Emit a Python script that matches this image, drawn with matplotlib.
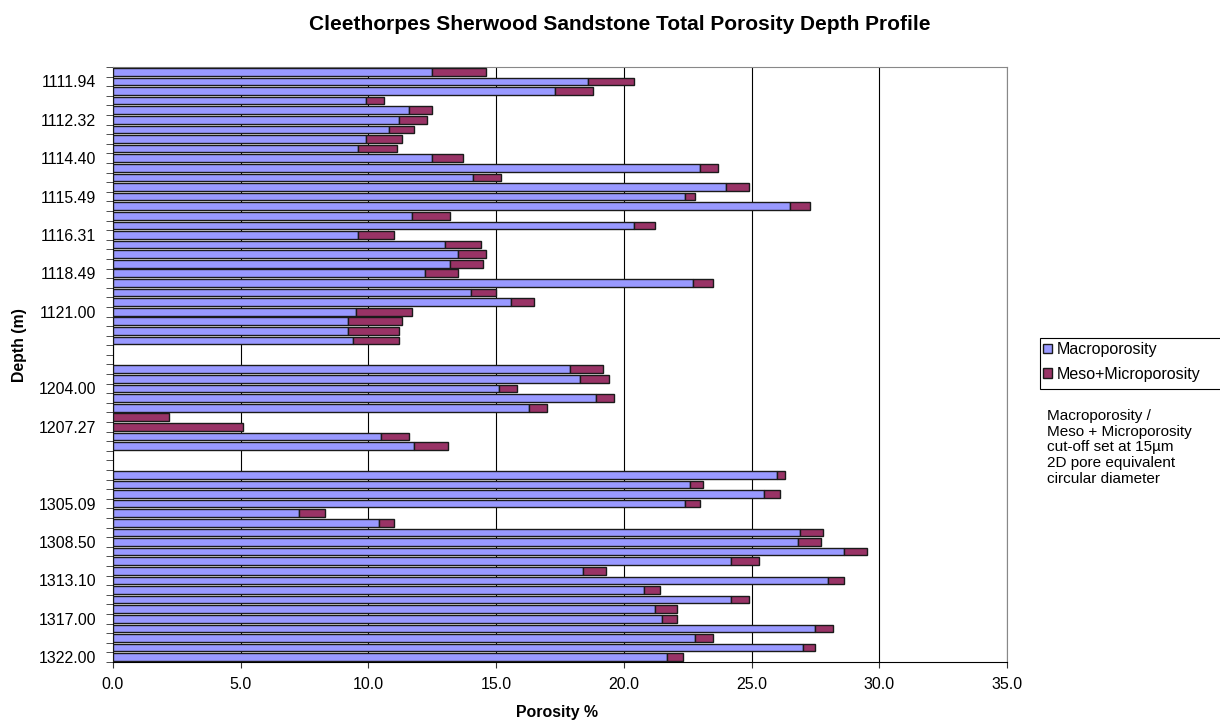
import matplotlib
matplotlib.use("Agg")
import matplotlib.pyplot as plt
from matplotlib.patches import Rectangle
import numpy as np

plt.rcParams['font.family'] = ['Liberation Sans', 'DejaVu Sans']

# Depth samples, top to bottom (None marks a gap between cored intervals)
depth_labels = ['', '1111.94', '', '', '', '1112.32', '', '', '', '1114.40',
                '', '', '', '1115.49', '', '', '', '1116.31', '', '',
                '', '1118.49', '', '', '', '1121.00', '', '', '', '',
                '', '', '', '1204.00', '', '', '', '1207.27', '', '',
                '', '', '', '', '', '1305.09', '', '', '', '1308.50',
                '', '', '', '1313.10', '', '', '', '1317.00', '', '',
                '', '1322.00']

macro = [12.5, 18.6, 17.3, 9.9, 11.6, 11.2, 10.8, 9.9, 9.6, 12.5,
         23.0, 14.1, 24.0, 22.4, 26.5, 11.7, 20.4, 9.6, 13.0, 13.5,
         13.2, 12.2, 22.7, 14.0, 15.6, 9.5, 9.2, 9.2, 9.4, None,
         None, 17.9, 18.3, 15.1, 18.9, 16.3, 0.0, 0.0, 10.5, 11.8,
         None, None, 26.0, 22.6, 25.5, 22.4, 7.3, 10.4, 26.9, 26.8,
         28.6, 24.2, 18.4, 28.0, 20.8, 24.2, 21.2, 21.5, 27.5, 22.8,
         27.0, 21.7]

meso_micro = [2.1, 1.8, 1.5, 0.7, 0.9, 1.1, 1.0, 1.4, 1.5, 1.2,
              0.7, 1.1, 0.9, 0.4, 0.8, 1.5, 0.8, 1.4, 1.4, 1.1,
              1.3, 1.3, 0.8, 1.0, 0.9, 2.2, 2.1, 2.0, 1.8, None,
              None, 1.3, 1.1, 0.7, 0.7, 0.7, 2.2, 5.1, 1.1, 1.3,
              None, None, 0.3, 0.5, 0.6, 0.6, 1.0, 0.6, 0.9, 0.9,
              0.9, 1.1, 0.9, 0.6, 0.6, 0.7, 0.9, 0.6, 0.7, 0.7,
              0.5, 0.6]

x_ticks = [0, 5, 10, 15, 20, 25, 30, 35]

macro_colour = '#9999FF'
meso_colour = '#993366'
edge_colour = '#1a1a1a'

W, H = 1220, 722
n = len(depth_labels)
pos = np.arange(n)
macro_v = np.array([np.nan if v is None else v for v in macro], dtype=float)
meso_v = np.array([np.nan if v is None else v for v in meso_micro], dtype=float)
has = ~np.isnan(macro_v)

fig = plt.figure(figsize=(W / 100, H / 100), dpi=100)
left, right, top, bottom = 113, 1007, 67, 662
ax = fig.add_axes([left / W, 1 - bottom / H, (right - left) / W, (bottom - top) / H])

ax.barh(pos[has], macro_v[has], height=0.8, color=macro_colour,
        edgecolor=edge_colour, linewidth=1.0, label='Macroporosity', zorder=3)
ax.barh(pos[has], meso_v[has], left=macro_v[has], height=0.8,
        color=meso_colour, edgecolor=edge_colour, linewidth=1.0,
        label='Meso+Microporosity', zorder=3)

ax.set_xlim(0, 35)
ax.set_ylim(n - 0.5, -0.5)
ax.set_xticks(x_ticks)
ax.set_xticklabels([f'{t:.1f}' for t in x_ticks], fontsize=11.5)
ax.xaxis.grid(True, color='#000000', linewidth=0.8, zorder=0)
ax.tick_params(axis='x', length=4, color='#333333', pad=7)

# Category labels at their centres, tick marks on the category boundaries
ax.set_yticks(pos)
ax.set_yticklabels(depth_labels, fontsize=11.4)
ax.tick_params(axis='y', which='major', length=0, pad=12)
ax.set_yticks(np.arange(-0.5, n, 1.0), minor=True)
ax.tick_params(axis='y', which='minor', length=5, color='#333333')

for side in ['top', 'right']:
    ax.spines[side].set_color('#888888')
ax.spines['left'].set_color('#000000')
ax.spines['bottom'].set_color('#000000')

fig.text(557 / W, 1 - 713 / H, 'Porosity %', fontsize=11.4,
         fontweight='bold', ha='center', va='center')
fig.text(20 / W, 1 - 345 / H, 'Depth (m)', fontsize=11.4,
         fontweight='bold', ha='center', va='center', rotation=90)

fig.text(620 / W, 1 - 24 / H,
         'Cleethorpes Sherwood Sandstone Total Porosity Depth Profile',
         fontsize=15, fontweight='bold', ha='center', va='center')

# Legend box runs off the right edge of the figure
fig.patches.append(Rectangle((1040 / W, 1 - 389 / H), 190 / W, 51 / H,
                             transform=fig.transFigure, facecolor='white',
                             edgecolor='#000000', linewidth=0.8))
handles, labels = ax.get_legend_handles_labels()
leg = fig.legend(handles, labels, loc='upper left',
                 bbox_to_anchor=(1043 / W, 1 - 342 / H),
                 frameon=False, fontsize=11.5, handlelength=0.55,
                 handleheight=0.55, handletextpad=0.3, borderpad=0.0,
                 labelspacing=0.6, borderaxespad=0)

fig.text(1047 / W, 1 - 409 / H,
         'Macroporosity /\nMeso + Microporosity\ncut-off set at 15\u00b5m\n'
         '2D pore equivalent\ncircular diameter',
         fontsize=11, va='top', ha='left', linespacing=1.15)

fig.savefig('out.png', dpi=100)
